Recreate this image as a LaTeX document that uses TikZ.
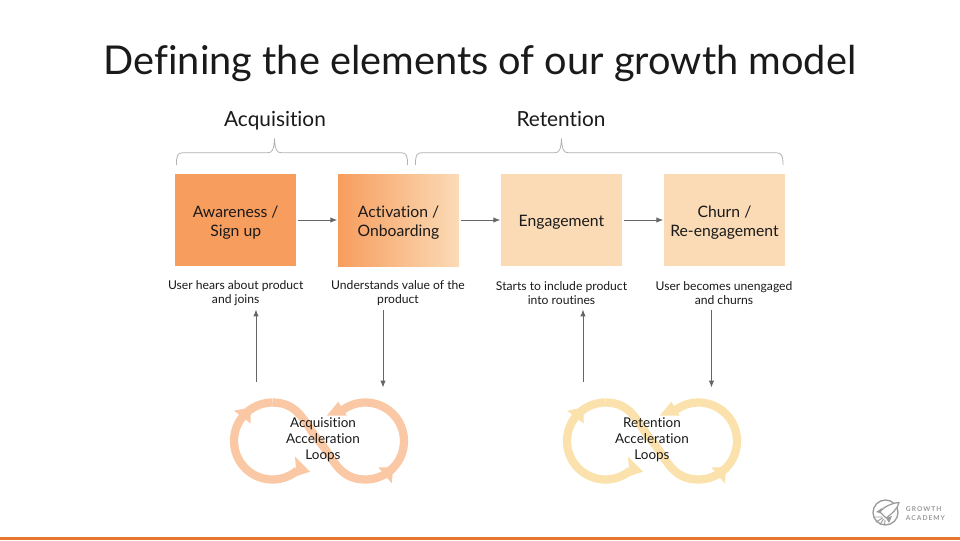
\documentclass[tikz,border=0pt]{standalone}
\usepackage{fontspec}
\setmainfont{Lato}[Ligatures=NoCommon]
\usetikzlibrary{arrows.meta}
\definecolor{boxdark}{HTML}{F79D5E}
\definecolor{boxlight}{HTML}{FBDBB6}
\definecolor{ringA}{HTML}{FAC8A4}
\definecolor{ringB}{HTML}{FBE1AB}
\definecolor{linegray}{HTML}{666666}
\definecolor{bracegray}{HTML}{B2B2B2}
\definecolor{logogray}{HTML}{9A9A9A}
\definecolor{barorange}{HTML}{E8772E}
\definecolor{inktext}{HTML}{1A1A1A}
\newcommand{\boxtext}[1]{\raisebox{-4.7pt}[0pt][0pt]{\parbox{90pt}{\centering #1}}}
\tikzset{
  stagebox/.style={minimum width=90.7pt,minimum height=69pt,inner sep=0pt,align=center,text=inktext,font=\fontsize{11.8}{14.3}\selectfont},
  flow/.style={draw=linegray,line width=0.6pt,-{Latex[length=5pt,width=4pt]},shorten >=0.5pt,shorten <=1pt},
  desc/.style={align=center,text=inktext,font=\fontsize{9.1}{10.5}\selectfont,inner sep=0pt},
  heading/.style={text=inktext,font=\fontsize{15.6}{18}\selectfont,inner sep=0pt,anchor=base},
  brace/.style={draw=bracegray,line width=0.6pt},
  looplabel/.style={align=center,text=inktext,font=\fontsize{10.1}{12}\selectfont,inner sep=0pt},
}
\newcommand{\acceleration}[2]{%
  \begin{scope}[xshift=#1*0.75pt]
    \draw[#2,line width=6.2pt] ([shift={(-130:38.5)}]272.5,441) arc[start angle=-130,end angle=-310,radius=38.5];
    \draw[#2,line width=6.2pt] (272.5,402.5) .. controls (300,402.5) and (305,425) .. (319,441)
       .. controls (333,457) and (338,479.5) .. (365.5,479.5) arc[start angle=90,end angle=45,radius=38.5];
    \draw[#2,line width=6.2pt] ([shift={(50:38.5)}]365.5,441) arc[start angle=50,end angle=-130,radius=38.5];
    \draw[#2,line width=6.2pt] ([shift={(-130:38.5)}]272.5,441) arc[start angle=-130,end angle=-90,radius=38.5];
    \fill[#2] (234,410.7) -- (250.7,407.5) -- (250.7,423.5) -- cycle;
    \fill[#2] (310,471.7) -- (295,456.7) -- (296.7,476) -- cycle;
    \fill[#2] (327,415.5) -- (338.3,401.7) -- (346.7,415.5) -- cycle;
    \fill[#2] (378.3,467.3) -- (393.3,467.3) -- (391.7,483.3) -- cycle;
  \end{scope}}
\begin{document}
\begin{tikzpicture}[x=0.75pt,y=-0.75pt]
\useasboundingbox (0,0) rectangle (960,540);
\fill[white] (0,0) rectangle (960,540);
\fill[barorange] (0,537) rectangle (960,540);

\node[text=inktext,font=\fontsize{29.8}{34}\selectfont,inner sep=0pt] (title) at (480,63) {Defining the elements of our growth model};
\node[heading] (acq) at (275,126.5) {Acquisition};
\node[heading] (ret) at (561,126.5) {Retention};

\draw[brace] (176.5,165) .. controls (176.5,156) and (177,152.7) .. (183,152.7) -- (268,152.7)
  .. controls (272,152.7) and (274,150) .. (274.5,138.5)
  .. controls (275,150) and (277,152.7) .. (281,152.7) -- (401,152.7)
  .. controls (407,152.7) and (407.5,156) .. (407.5,165);
\draw[brace] (415.5,165) .. controls (415.5,156) and (416,152.7) .. (422,152.7) -- (555,152.7)
  .. controls (559,152.7) and (561,150) .. (561.5,138.5)
  .. controls (562,150) and (564,152.7) .. (568,152.7) -- (776,152.7)
  .. controls (782,152.7) and (783,156) .. (783,165);

\node[stagebox,fill=boxdark] (aw) at (235.7,220) {\boxtext{Awareness /\\Sign up}};
\node[stagebox,left color=boxdark,right color=boxlight] (ac) at (398.5,220) {\boxtext{Activation /\\Onboarding}};
\node[stagebox,fill=boxlight] (en) at (561.5,220) {\boxtext{Engagement}};
\node[stagebox,fill=boxlight] (ch) at (724.5,220) {\boxtext{Churn /\\Re-engagement}};

\draw[flow] (aw) -- (ac);
\draw[flow] (ac) -- (en);
\draw[flow] (en) -- (ch);

\node[desc] (d1) at (235.7,293.5) {User hears about product\\and joins};
\node[desc] (d2) at (398,293.5) {Understands value of the\\product};
\node[desc] (d3) at (561.5,293.5) {Starts to include product\\into routines};
\node[desc] (d4) at (724,293.5) {User becomes unengaged\\and churns};

\acceleration{0}{ringA}
\acceleration{333}{ringB}

\node[looplabel] (l1) at (323,440) {Acquisition\\Acceleration\\Loops};
\node[looplabel] (l2) at (652,440) {Retention\\Acceleration\\Loops};

\coordinate (u1s) at (256,383);
\coordinate (u1e) at (256,309);
\coordinate (d1s) at (383,309);
\coordinate (d1e) at (383,388);
\coordinate (u2s) at (583,383);
\coordinate (u2e) at (583,309);
\coordinate (d2s) at (711.5,309);
\coordinate (d2e) at (711.5,388);
\draw[flow] (u1s) -- (u1e);
\draw[flow] (d1s) -- (d1e);
\draw[flow] (u2s) -- (u2e);
\draw[flow] (d2s) -- (d2e);

% logo
\draw[logogray,line width=1pt] (885.5,512.5) circle (12.5);
\draw[logogray,line width=0.9pt,fill=white,line join=round] (899,502.5) .. controls (893,503) and (884,506) .. (880,512) -- (883,515) -- (886,518)
   .. controls (892,514) and (898,508) .. (899,502.5) -- cycle;
\fill[logogray] (876,512) -- (882,508) -- (880,513) -- cycle;
\fill[logogray] (889,523) -- (892,516) -- (886,518) -- cycle;
\draw[logogray,line width=0.7pt] (882,517) -- (874,517) (882.5,518) -- (876,522) (883.5,519) -- (880,524.5) (885,520) -- (884.5,525);
\node[text=logogray,font=\bfseries\fontsize{5}{7.2}\selectfont,align=left,inner sep=0pt,anchor=west] (logo) at (905.7,513.5) {\addfontfeature{LetterSpace=15}GROWTH\\\addfontfeature{LetterSpace=15}ACADEMY};
\end{tikzpicture}
\end{document}
